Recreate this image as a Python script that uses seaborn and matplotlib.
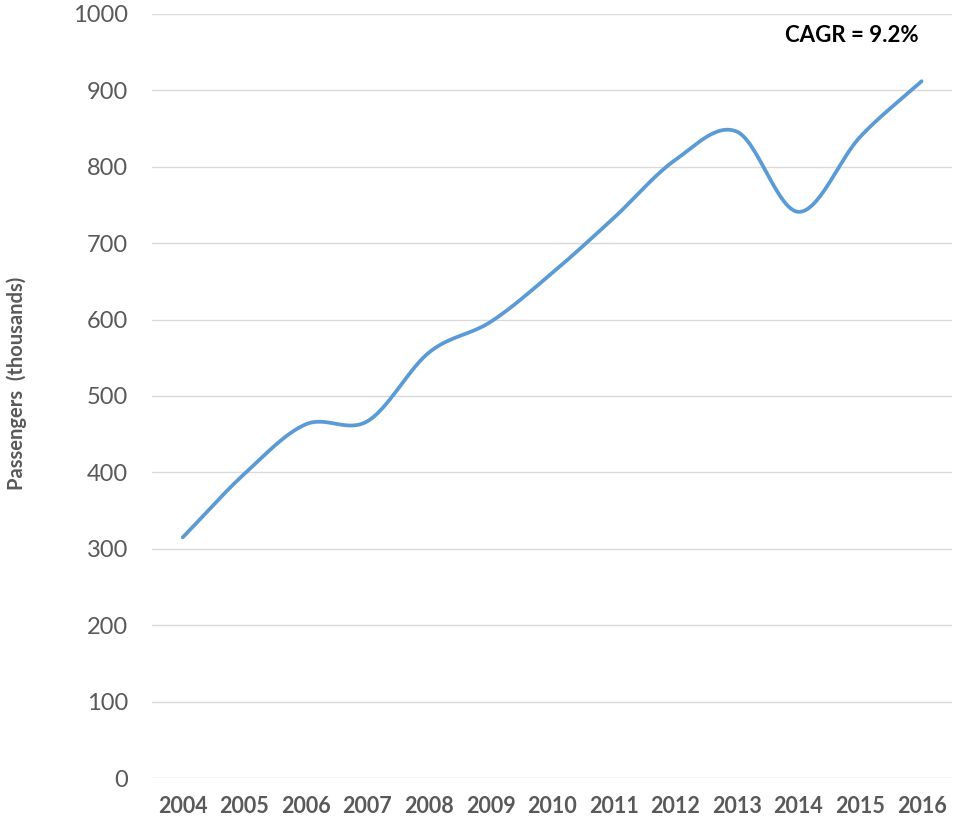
import numpy as np
import pandas as pd
import seaborn as sns
import matplotlib.pyplot as plt

years = ["2004", "2005", "2006", "2007", "2008", "2009", "2010",
         "2011", "2012", "2013", "2014", "2015", "2016"]
passengers = [315, 398, 463, 467, 557, 597, 661, 733, 809, 846, 741, 839, 912]
y_ticks = [0, 100, 200, 300, 400, 500, 600, 700, 800, 900, 1000]
cagr_label = "CAGR = 9.2%"

sns.set_theme(style="white")
plt.rcParams['font.family'] = ['Lato', 'DejaVu Sans']


def smooth(x, y, n=30):
    # catmull-rom style smoothing like the spreadsheet "smoothed line"
    x = np.asarray(x, float)
    y = np.asarray(y, float)
    px = np.concatenate([[2 * x[0] - x[1]], x, [2 * x[-1] - x[-2]]])
    py = np.concatenate([[2 * y[0] - y[1]], y, [2 * y[-1] - y[-2]]])
    t = np.linspace(0, 1, n, endpoint=False)
    xs, ys = [], []
    for i in range(1, len(px) - 2):
        for p, out in ((px, xs), (py, ys)):
            p0, p1, p2, p3 = p[i - 1], p[i], p[i + 1], p[i + 2]
            out.extend(0.5 * ((2 * p1) + (-p0 + p2) * t
                              + (2 * p0 - 5 * p1 + 4 * p2 - p3) * t ** 2
                              + (-p0 + 3 * p1 - 3 * p2 + p3) * t ** 3))
    xs.append(x[-1])
    ys.append(y[-1])
    return np.array(xs), np.array(ys)


df = pd.DataFrame({"pos": np.arange(len(years)), "passengers": passengers})
sx, sy = smooth(df["pos"], df["passengers"])
curve = pd.DataFrame({"x": sx, "y": sy})

fig = plt.figure(figsize=(9.54, 8.22), dpi=100)
ax = fig.add_axes([0.1593, 0.0535, 0.839, 0.9295])

ax.yaxis.grid(True, color="#D9D9D9", linewidth=1)
ax.set_axisbelow(True)
sns.lineplot(data=curve, x="x", y="y", sort=False, estimator=None,
             color="#5B9BD5", linewidth=2.7, ax=ax)

ax.set_xlim(-0.5, len(years) - 0.5)
ax.set_ylim(0, 1000)
ax.set_xticks(df["pos"])
ax.set_xticklabels(years, fontsize=15.5, fontweight="bold", color="#595959")
ax.set_yticks(y_ticks)
ax.set_yticklabels([str(v) for v in y_ticks], fontsize=17, color="#595959")
ax.tick_params(axis="y", length=0, pad=17)
ax.tick_params(axis="x", length=0, pad=13)
sns.despine(ax=ax, left=True, bottom=True, top=True, right=True)

ax.set_xlabel("")
ax.set_ylabel("Passengers  (thousands)", fontsize=14.5, fontweight="bold",
              color="#595959", va="center")
ax.yaxis.set_label_coords(-0.169, 0.516)

ax.text(10.86, 972, cagr_label, ha="center", va="center", fontsize=16,
        fontweight="bold", color="black")

fig.savefig("out.png", dpi=100)
